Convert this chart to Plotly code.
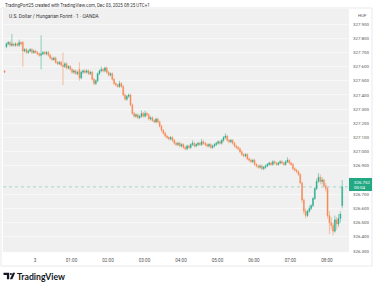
import plotly.graph_objects as go
import pandas as pd

# ---------------- data (3-minute candles) ----------------
start_time = "2025-12-02 23:10"
opens = [327.57,327.74,327.76,327.77,327.75,327.76,327.75,327.76,327.75,327.77,
 327.77,327.71,327.72,327.70,327.71,327.72,327.70,327.71,327.70,327.69,
 327.68,327.69,327.70,327.69,327.70,327.68,327.66,327.65,327.66,327.63,
 327.62,327.63,327.61,327.60,327.62,327.59,327.60,327.58,327.56,327.57,
 327.55,327.58,327.52,327.56,327.57,327.56,327.57,327.55,327.56,327.51,
 327.48,327.50,327.55,327.57,327.58,327.57,327.59,327.56,327.54,327.55,
 327.51,327.48,327.47,327.46,327.48,327.46,327.40,327.37,327.39,327.40,
 327.33,327.27,327.25,327.26,327.24,327.25,327.27,327.25,327.27,327.26,
 327.23,327.24,327.22,327.21,327.23,327.21,327.18,327.15,327.13,327.11,
 327.10,327.09,327.10,327.08,327.06,327.05,327.06,327.04,327.05,327.03,
 327.02,327.04,327.03,327.05,327.06,327.04,327.05,327.06,327.05,327.07,
 327.06,327.05,327.04,327.05,327.03,327.04,327.05,327.06,327.07,327.06,
 327.08,327.10,327.11,327.08,327.07,327.08,327.06,327.04,327.03,327.02,
 327.00,326.98,326.97,326.98,326.95,326.94,326.93,326.94,326.91,326.90,
 326.89,326.90,326.88,326.89,326.90,326.91,326.92,326.91,326.93,326.92,
 326.91,326.92,326.93,326.92,326.91,326.93,326.94,326.92,326.91,326.88,
 326.87,326.86,326.84,326.78,326.66,326.58,326.55,326.58,326.60,326.62,
 326.67,326.74,326.79,326.82,326.79,326.80,326.76,326.74,326.55,326.50,
 326.48,326.44,326.52,326.49,326.53,326.62]
highs = [327.575,327.77,327.78,327.78,327.83,327.77,327.77,327.77,327.79,327.78,
 327.78,327.73,327.73,327.72,327.73,327.73,327.72,327.72,327.71,327.70,
 327.82,327.71,327.71,327.71,327.71,327.69,327.67,327.67,327.67,327.64,
 327.64,327.64,327.70,327.63,327.63,327.61,327.61,327.59,327.58,327.58,
 327.57,327.63,327.57,327.58,327.58,327.58,327.58,327.57,327.57,327.52,
 327.51,327.56,327.58,327.60,327.59,327.60,327.60,327.57,327.56,327.56,
 327.52,327.49,327.48,327.50,327.49,327.47,327.41,327.40,327.41,327.41,
 327.34,327.28,327.27,327.27,327.26,327.29,327.28,327.29,327.28,327.27,
 327.25,327.25,327.23,327.24,327.24,327.22,327.19,327.16,327.14,327.12,
 327.11,327.11,327.11,327.09,327.07,327.07,327.07,327.06,327.06,327.04,
 327.05,327.05,327.06,327.08,327.07,327.06,327.07,327.07,327.09,327.08,
 327.07,327.06,327.06,327.06,327.05,327.06,327.07,327.08,327.08,327.09,
 327.11,327.13,327.12,327.09,327.09,327.09,327.07,327.05,327.04,327.03,
 327.01,326.99,326.99,326.99,326.96,326.95,326.95,326.95,326.92,326.91,
 326.91,326.91,326.90,326.91,326.92,326.93,326.93,326.94,326.94,326.93,
 326.93,326.94,326.94,326.93,326.94,326.96,326.95,326.93,326.92,326.89,
 326.88,326.87,326.85,326.79,326.67,326.60,326.59,326.62,326.63,326.68,
 326.75,326.81,326.85,326.84,326.82,326.81,326.78,326.75,326.58,326.54,
 326.50,326.55,326.54,326.56,326.58,326.80]
lows = [327.555,327.73,327.75,327.74,327.74,327.74,327.74,327.74,327.74,327.75,
 327.60,327.70,327.69,327.69,327.70,327.69,327.69,327.69,327.68,327.67,
 327.58,327.68,327.68,327.68,327.67,327.65,327.64,327.64,327.62,327.61,
 327.61,327.60,327.47,327.59,327.58,327.58,327.57,327.55,327.55,327.54,
 327.54,327.50,327.51,327.55,327.55,327.55,327.54,327.54,327.50,327.47,
 327.47,327.49,327.54,327.56,327.56,327.56,327.55,327.53,327.53,327.50,
 327.47,327.46,327.45,327.45,327.45,327.39,327.36,327.36,327.38,327.32,
 327.26,327.24,327.24,327.23,327.23,327.24,327.24,327.24,327.25,327.22,
 327.22,327.21,327.20,327.20,327.20,327.17,327.14,327.12,327.10,327.09,
 327.08,327.08,327.07,327.05,327.04,327.04,327.03,327.03,327.02,327.01,
 327.01,327.02,327.02,327.04,327.03,327.03,327.04,327.04,327.04,327.05,
 327.04,327.03,327.03,327.02,327.02,327.03,327.04,327.05,327.05,327.05,
 327.07,327.09,327.07,327.06,327.06,327.05,327.03,327.02,327.01,326.99,
 326.97,326.96,326.96,326.94,326.93,326.92,326.92,326.90,326.89,326.88,
 326.88,326.87,326.87,326.88,326.89,326.90,326.90,326.90,326.91,326.90,
 326.90,326.91,326.91,326.90,326.90,326.92,326.91,326.90,326.87,326.86,
 326.85,326.83,326.77,326.64,326.56,326.53,326.54,326.57,326.59,326.61,
 326.66,326.73,326.78,326.77,326.77,326.75,326.72,326.53,326.42,326.45,
 326.41,326.43,326.45,326.47,326.50,326.60]
closes = [327.56,327.76,327.77,327.75,327.76,327.75,327.76,327.75,327.77,327.76,
 327.71,327.72,327.70,327.71,327.72,327.70,327.71,327.70,327.69,327.68,
 327.69,327.70,327.69,327.70,327.68,327.66,327.65,327.66,327.63,327.62,
 327.63,327.61,327.60,327.62,327.59,327.60,327.58,327.56,327.57,327.55,
 327.56,327.52,327.56,327.57,327.56,327.57,327.55,327.56,327.51,327.48,
 327.50,327.55,327.57,327.58,327.57,327.59,327.56,327.54,327.55,327.51,
 327.48,327.47,327.46,327.48,327.46,327.40,327.37,327.39,327.40,327.33,
 327.27,327.25,327.26,327.24,327.25,327.27,327.25,327.27,327.26,327.23,
 327.24,327.22,327.21,327.23,327.21,327.18,327.15,327.13,327.11,327.10,
 327.09,327.10,327.08,327.06,327.05,327.06,327.04,327.05,327.03,327.02,
 327.04,327.03,327.05,327.06,327.04,327.05,327.06,327.05,327.07,327.06,
 327.05,327.04,327.05,327.03,327.04,327.05,327.06,327.07,327.06,327.08,
 327.10,327.11,327.08,327.07,327.08,327.06,327.04,327.03,327.02,327.00,
 326.98,326.97,326.98,326.95,326.94,326.93,326.94,326.91,326.90,326.89,
 326.90,326.88,326.89,326.90,326.91,326.92,326.91,326.93,326.92,326.91,
 326.92,326.93,326.92,326.91,326.93,326.94,326.92,326.91,326.88,326.87,
 326.86,326.84,326.78,326.66,326.58,326.55,326.58,326.60,326.62,326.67,
 326.74,326.79,326.82,326.79,326.80,326.76,326.74,326.55,326.50,326.48,
 326.44,326.52,326.49,326.53,326.56,326.752]

# 326.800 sits under the last-price box in the reference, so it is not listed
price_ticks = [326.3,326.4,326.5,326.6,326.7,326.9,327.0,327.1,327.2,
               327.3,327.4,327.5,327.6,327.7,327.8,327.9]
price_tick_labels = ["326.300","326.400","326.500","326.600","326.700",
                     "326.900","327.000","327.100","327.200","327.300","327.400",
                     "327.500","327.600","327.700","327.800","327.900"]
time_ticks = ["2025-12-03 00:00","2025-12-03 01:00","2025-12-03 02:00","2025-12-03 03:00",
              "2025-12-03 04:00","2025-12-03 05:00","2025-12-03 06:00","2025-12-03 07:00",
              "2025-12-03 08:00"]
time_tick_labels = ["3","01:00","02:00","03:00","04:00","05:00","06:00","07:00","08:00"]
last_price_label = "326.752"
countdown_label = "00:04"
header_text = "TradingPort25 created with TradingView.com, Dec 03, 2025 08:25 UTC+1"
symbol_text = "U.S. Dollar / Hungarian Forint · 1 · OANDA"
currency_text = "HUF"
brand_text = "TradingView"

# ---------------- styling ----------------
UP = "#22ab8a"
DOWN = "#f7854f"
FONT = "Roboto, Open Sans, sans-serif"
W, H = 375, 287
PL, PR, PT, PB = 3, 349, 9, 252   # plot area in px


def fx(px):
    return (px - PL) / (PR - PL)


def fy(py):
    return (PB - py) / (PB - PT)


times = pd.date_range(start_time, periods=len(closes), freq="3min")

fig = go.Figure()
fig.add_trace(go.Candlestick(
    x=times, open=opens, high=highs, low=lows, close=closes,
    increasing=dict(line=dict(color=UP, width=0.5), fillcolor=UP),
    decreasing=dict(line=dict(color=DOWN, width=0.5), fillcolor=DOWN),
    whiskerwidth=0, showlegend=False, hoverinfo="skip",
))

shapes = []
# outer frame
shapes.append(dict(type="rect", xref="paper", yref="paper",
                   x0=fx(1), x1=fx(372), y0=fy(266), y1=fy(8),
                   line=dict(color="#e3e3e3", width=0.8), fillcolor="rgba(0,0,0,0)",
                   layer="below"))
# last price line
shapes.append(dict(type="line", xref="paper", yref="y", x0=0, x1=1,
                   y0=closes[-1], y1=closes[-1],
                   line=dict(color="rgba(34,171,148,0.55)", width=0.7, dash="dot"),
                   layer="above"))
# last price box on the price scale
shapes.append(dict(type="rect", xref="paper", yref="paper",
                   x0=fx(349), x1=fx(372), y0=fy(191), y1=fy(178),
                   fillcolor="#22a984", line=dict(width=0), layer="above"))
# TradingView logo icon
shapes.append(dict(type="path", xref="paper", yref="paper",
                   path=("M %f %f L %f %f L %f %f L %f %f L %f %f L %f %f Z" % (
                       fx(3.5), fy(272.8), fx(9.2), fy(272.8), fx(9.2), fy(279.2),
                       fx(6.9), fy(279.2), fx(6.9), fy(275), fx(3.5), fy(275))),
                   fillcolor="#131722", line=dict(width=0)))
shapes.append(dict(type="circle", xref="paper", yref="paper",
                   x0=fx(9.8), x1=fx(11.9), y0=fy(275.1), y1=fy(273),
                   fillcolor="#131722", line=dict(width=0)))
shapes.append(dict(type="path", xref="paper", yref="paper",
                   path=("M %f %f L %f %f L %f %f L %f %f Z" % (
                       fx(12.8), fy(272.8), fx(15.2), fy(272.8), fx(12.3), fy(279.2),
                       fx(9.9), fy(279.2))),
                   fillcolor="#131722", line=dict(width=0)))

annotations = [
    dict(text=header_text, xref="paper", yref="paper", x=fx(3), y=fy(5),
         xanchor="left", yanchor="middle", showarrow=False,
         font=dict(family=FONT, size=4.5, color="#333")),
    dict(text=symbol_text, xref="paper", yref="paper", x=fx(7), y=fy(15.5),
         xanchor="left", yanchor="middle", showarrow=False,
         font=dict(family=FONT, size=4.9, color="#333")),
    dict(text=currency_text, xref="paper", yref="paper", x=fx(356), y=fy(15.5),
         xanchor="left", yanchor="middle", showarrow=False,
         font=dict(family=FONT, size=4.4, color="#555")),
    dict(text=last_price_label, xref="paper", yref="paper", x=fx(352), y=fy(182),
         xanchor="left", yanchor="middle", showarrow=False,
         font=dict(family=FONT, size=4.4, color="#ffffff")),
    dict(text=countdown_label, xref="paper", yref="paper", x=fx(352), y=fy(187.5),
         xanchor="left", yanchor="middle", showarrow=False,
         font=dict(family=FONT, size=4.4, color="#ffffff")),
    dict(text="<b>" + brand_text + "</b>", xref="paper", yref="paper", x=fx(14.5), y=fy(276),
         xanchor="left", yanchor="middle", showarrow=False,
         font=dict(family="Lato, Roboto, sans-serif", size=8.7, color="#131722")),
]

fig.update_layout(
    width=W, height=H,
    margin=dict(l=PL, r=W - PR, t=PT, b=H - PB, pad=0),
    paper_bgcolor="#ffffff", plot_bgcolor="#f0f0f0",
    font=dict(family=FONT, size=4.6, color="#666"),
    shapes=shapes, annotations=annotations,
    showlegend=False,
    xaxis=dict(
        type="date",
        range=["2025-12-02 23:07:24", "2025-12-03 08:36:12"],
        rangeslider=dict(visible=False),
        tickvals=time_ticks, ticktext=time_tick_labels,
        showgrid=False, zeroline=False, showline=False, ticks="",
        ticklabelstandoff=4,
        tickfont=dict(family=FONT, size=4.6, color="#555"),
        fixedrange=True,
    ),
    yaxis=dict(
        side="right",
        range=[326.293, 328.006],
        tickvals=price_ticks, ticktext=price_tick_labels,
        showgrid=True, gridcolor="#f8f8f8", gridwidth=0.8,
        zeroline=False, showline=False, ticks="",
        ticklabelstandoff=3,
        tickfont=dict(family=FONT, size=4.4, color="#555"),
        fixedrange=True,
    ),
)

fig.write_html("out.html")
